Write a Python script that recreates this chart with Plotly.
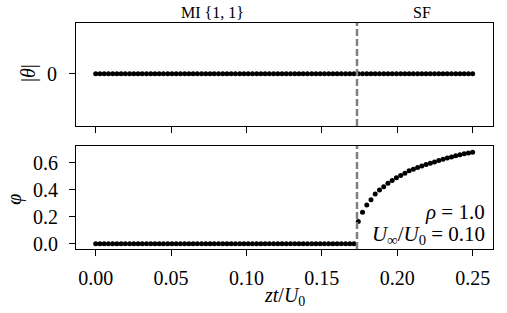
import numpy as np
import plotly.graph_objects as go

# ---- data ----
zt = np.linspace(0.0, 0.25, 90)          # sampling grid zt/U0
theta_abs = [0.0] * 90                    # |theta|
phi_mi = [0.0] * 62                       # MI region
phi_sf = [0.165, 0.232, 0.287, 0.326, 0.368, 0.398, 0.422, 0.447, 0.467,
          0.487, 0.504, 0.521, 0.539, 0.551, 0.563, 0.574, 0.585, 0.595,
          0.605, 0.615, 0.624, 0.633, 0.642, 0.650, 0.658, 0.665, 0.671, 0.677]
phi = phi_mi + phi_sf
transition = 0.1733
region_labels = ["MI {1, 1}", "SF"]
region_centers = [0.0774, 0.2167]
x_ticks = [0.0, 0.05, 0.10, 0.15, 0.20, 0.25]
phi_ticks = [0.0, 0.2, 0.4, 0.6]

FONT = "Liberation Serif, Times New Roman, serif"
F20 = dict(family=FONT, size=20, color="black")
F21 = dict(family=FONT, size=21, color="black")
fig = go.Figure()
mk = dict(color="black", size=5)
fig.add_trace(go.Scatter(x=zt, y=theta_abs, mode="markers", marker=mk,
                         xaxis="x", yaxis="y", showlegend=False))
fig.add_trace(go.Scatter(x=zt, y=phi, mode="markers", marker=mk,
                         xaxis="x2", yaxis="y2", showlegend=False))

axcommon = dict(showline=True, linecolor="black", linewidth=1.2, mirror=True,
                ticks="outside", ticklen=6, tickwidth=1.2, tickcolor="black",
                showgrid=False, zeroline=False, tickfont=F20)
xr = [-0.01306, 0.2635]
fig.update_layout(
    width=507, height=313,
    margin=dict(l=76, r=14, t=23, b=64),
    paper_bgcolor="white", plot_bgcolor="white",
    font=F20,
    xaxis=dict(domain=[0, 1], anchor="y", range=xr, tickvals=x_ticks,
               showticklabels=False, **axcommon),
    yaxis=dict(domain=[0.544, 1], anchor="x", range=[-0.0524, 0.0506],
               tickvals=[0], ticktext=["0"], ticklabelstandoff=8, **axcommon),
    xaxis2=dict(domain=[0, 1], anchor="y2", range=xr, tickvals=x_ticks,
                tickformat=".2f", ticklabelstandoff=5, **axcommon),
    yaxis2=dict(domain=[0, 0.456], anchor="x2", range=[-0.039, 0.723],
                tickvals=phi_ticks, tickformat=".1f", ticklabelstandoff=7,
                **axcommon),
)

for xa, yref in [("x", "y domain"), ("x2", "y2 domain")]:
    fig.add_shape(type="line", xref=xa, yref=yref, x0=transition, x1=transition,
                  y0=0, y1=1, line=dict(color="#808080", width=2.5, dash="7px,3px"))

for lab, cx in zip(region_labels, region_centers):
    fig.add_annotation(text=lab, x=cx, xref="x", y=1.0456, yref="paper",
                       showarrow=False, xanchor="center", yanchor="middle",
                       font=dict(family=FONT, size=16, color="black"))

def ann(text, x, y, xanchor="center", angle=0, font=F20):
    fig.add_annotation(text=text, textangle=angle, x=x, xref="paper",
                       y=y, yref="paper", showarrow=False,
                       xanchor=xanchor, yanchor="middle", font=font)

ann("|<i>θ</i>|", -0.115, (249 - 73) / 226, angle=-90)
ann("<i>φ</i>", -0.149, (249 - 199) / 226, angle=-90)
ann("<i>zt</i>/<i>U</i><sub>0</sub>", 0.5, -0.211)
ann("<i>ρ</i> = 1.0", 0.9856, (249 - 212) / 226, xanchor="right", font=F21)
ann("<i>U</i><sub>∞</sub>/<i>U</i><sub>0</sub> = 0.10", 0.9856,
    (249 - 235) / 226, xanchor="right", font=F21)

fig.write_html("out.html")
